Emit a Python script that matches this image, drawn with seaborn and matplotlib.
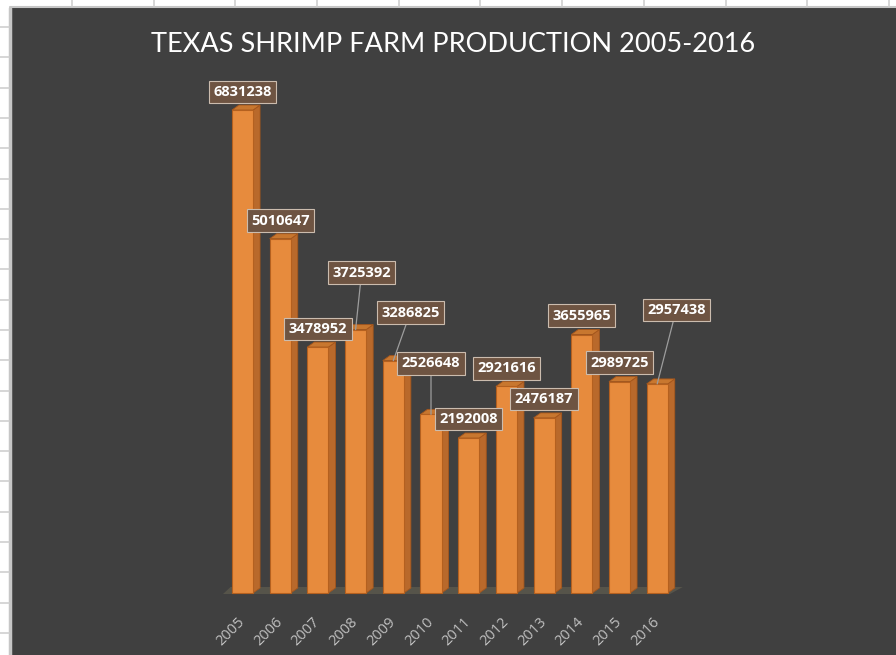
import numpy as np
import pandas as pd
import matplotlib
matplotlib.use("Agg")
import matplotlib.pyplot as plt
from matplotlib.patches import Polygon, Rectangle
import seaborn as sns

# data
years = ["2005", "2006", "2007", "2008", "2009", "2010",
         "2011", "2012", "2013", "2014", "2015", "2016"]
production = [6831238, 5010647, 3478952, 3725392, 3286825, 2526648,
              2192008, 2921616, 2476187, 3655965, 2989725, 2957438]
title = "TEXAS SHRIMP FARM PRODUCTION 2005-2016"

df = pd.DataFrame({"year": years, "production": production})

# label placement (pixels from bar top), and which labels get a leader line
label_offsets = [(0, 18), (0, 18), (0, 18), (6, 57), (17, 48), (0, 51),
                 (0, 19), (0, 18), (0, 19), (0, 19), (0, 19), (19, 74)]
leader = [False, False, False, True, True, True,
          False, False, False, False, False, True]

sns.set_theme(style="white")
plt.rcParams["font.family"] = ["Open Sans", "DejaVu Sans"]

W, H = 896, 655
fig = plt.figure(figsize=(W / 100, H / 100), dpi=100, facecolor="white")

# spreadsheet behind the chart
bg = fig.add_axes([0, 0, 1, 1])
bg.set_xlim(0, W)
bg.set_ylim(H, 0)
bg.axis("off")
bg.add_patch(Rectangle((11, 8), W, H, facecolor="#404040", edgecolor="none"))
bg.plot([9.5, 9.5], [8, H], color="#c6c6c6", lw=2.5)
bg.plot([9.5, W], [7, 7], color="#c6c6c6", lw=1.5)
for yy in np.arange(27, H, 30.3):
    bg.plot([0, 9], [yy, yy], color="#d0d0d0", lw=1.2)
for xx in np.arange(72, W, 81.7):
    bg.plot([xx, xx], [0, 6], color="#d0d0d0", lw=1.2)

bg.text(453, 45, title, color="white", fontsize=19.5, ha="center", va="center",
        family=["Lato", "Open Sans", "DejaVu Sans"], fontweight="normal")

# chart axes
x0px, x1px, top_px, bot_px = 200, 700, 60, 600
base_px, pitch, vscale = 593, 37.7, 70.7e-6  # px per unit value
ax = fig.add_axes([x0px / W, 1 - bot_px / H, (x1px - x0px) / W, (bot_px - top_px) / H])
ax.set_facecolor("none")

sns.barplot(data=df, x="year", y="production", color="#e78b3d", saturation=1,
            width=0.56, edgecolor="#b4601f", linewidth=0.8, ax=ax, zorder=3)

ax.set_xlim((x0px - 242.5) / pitch, (x1px - 242.5) / pitch)
ax.set_ylim(-(bot_px - base_px) / vscale, (base_px - top_px) / vscale)

dx = 7 / pitch
dy = 5 / vscale

# floor
fl0, fl1 = (223 - 242.5) / pitch, (670 - 242.5) / pitch
floor = Polygon([(fl0, -1 / vscale), (fl1, -1 / vscale),
                 (fl1 + 0.34, 6 / vscale), (fl0 + 0.2, 6 / vscale)],
                closed=True, facecolor="#56544a", edgecolor="none", zorder=1)
ax.add_patch(floor)

# 3d sides and tops
for p in ax.patches[:len(years)]:
    bx, bw, bh = p.get_x(), p.get_width(), p.get_height()
    side = Polygon([(bx + bw, 0), (bx + bw + dx, dy), (bx + bw + dx, bh + dy), (bx + bw, bh)],
                   closed=True, facecolor="#b9692b", edgecolor="#a5561c", lw=0.6, zorder=2)
    topf = Polygon([(bx, bh), (bx + bw, bh), (bx + bw + dx, bh + dy), (bx + dx, bh + dy)],
                   closed=True, facecolor="#c8772f", edgecolor="#a5561c", lw=0.6, zorder=2)
    ax.add_patch(side)
    ax.add_patch(topf)

# data labels
for i, (v, off, ld) in enumerate(zip(production, label_offsets, leader)):
    arrow = dict(arrowstyle="-", color="#9d9d9d", lw=0.9, shrinkA=0, shrinkB=0) if ld else None
    ax.annotate(f"{v}", xy=(i, v), xytext=off, textcoords="offset pixels",
                ha="center", va="center", color="white", fontsize=10.5, fontweight="bold",
                bbox=dict(boxstyle="square,pad=0.3", fc="#6e5442", ec="#cbbcae", lw=0.8),
                arrowprops=arrow, zorder=6)

ax.set_xlabel("")
ax.set_ylabel("")
ax.set_yticks([])
ax.tick_params(axis="x", length=0, pad=14, labelcolor="#c0c0c0", labelsize=10.5)
for lab in ax.get_xticklabels():
    lab.set_rotation(45)
    lab.set_ha("right")
    lab.set_va("center")
    lab.set_rotation_mode("anchor")
sns.despine(ax=ax, left=True, bottom=True)

fig.savefig("out.png", dpi=100, facecolor="white")
